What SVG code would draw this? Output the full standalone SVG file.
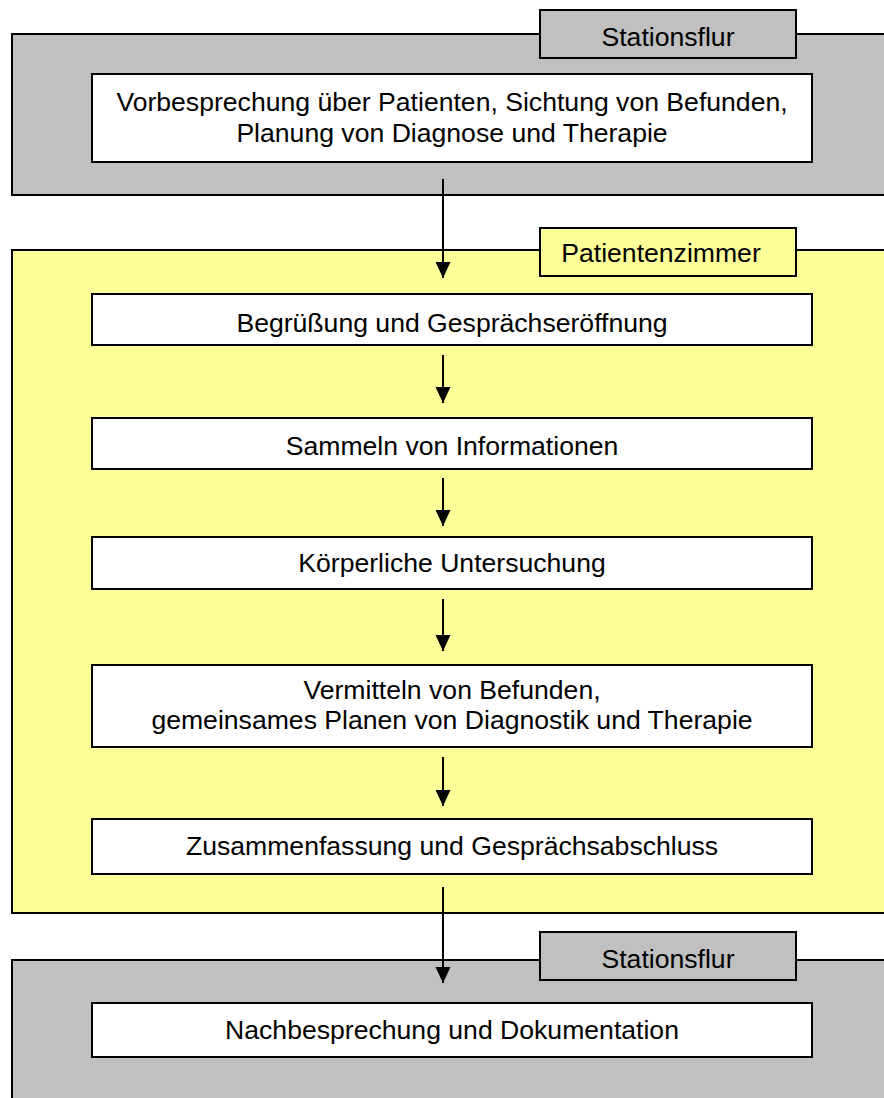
<svg xmlns="http://www.w3.org/2000/svg" width="884" height="1098" viewBox="0 0 884 1098">
  <style>
    .panel-gray { fill: #C0C0C0; stroke: #000; stroke-width: 2; }
    .panel-yellow { fill: #FFFF99; stroke: #000; stroke-width: 2; }
    .box { fill: #FFFFFF; stroke: #000; stroke-width: 2; }
    .t { font-family: "Liberation Sans", Arial, sans-serif; font-size: 26.6px; fill: #000; text-anchor: middle; }
    .conn { stroke: #000; stroke-width: 2; fill: none; marker-end: url(#ah); }
  </style>
  <defs>
    <marker id="ah" markerUnits="userSpaceOnUse" markerWidth="16" markerHeight="16" refX="16" refY="8" orient="auto">
      <path d="M0,0.5 L16,8 L0,15.5 z" fill="#000"/>
    </marker>
  </defs>

  <rect width="884" height="1098" fill="#FFFFFF"/>

  <g id="panel-stationsflur-top">
    <rect class="panel-gray" x="12" y="34" width="900" height="161"/>
    <rect class="panel-gray" x="540" y="10" width="256" height="48"/>
    <text class="t" x="668" y="46">Stationsflur</text>
  </g>

  <g id="panel-patientenzimmer">
    <rect class="panel-yellow" x="12" y="250" width="900" height="663"/>
    <rect class="panel-yellow" x="540" y="228" width="256" height="48"/>
    <text class="t" x="661" y="262">Patientenzimmer</text>
  </g>

  <g id="panel-stationsflur-bottom">
    <rect class="panel-gray" x="12" y="960" width="900" height="160"/>
    <rect class="panel-gray" x="540" y="932" width="256" height="48"/>
    <text class="t" x="668" y="968">Stationsflur</text>
  </g>

  <g id="node-vorbesprechung">
    <rect class="box" x="92" y="74" width="720" height="88"/>
    <text class="t" x="452" y="111">Vorbesprechung über Patienten, Sichtung von Befunden,</text>
    <text class="t" x="452" y="142">Planung von Diagnose und Therapie</text>
  </g>

  <g id="node-begruessung">
    <rect class="box" x="92" y="294" width="720" height="51"/>
    <text class="t" x="452" y="332">Begrüßung und Gesprächseröffnung</text>
  </g>

  <g id="node-sammeln">
    <rect class="box" x="92" y="418" width="720" height="51"/>
    <text class="t" x="452" y="455">Sammeln von Informationen</text>
  </g>

  <g id="node-untersuchung">
    <rect class="box" x="92" y="537" width="720" height="52"/>
    <text class="t" x="452" y="572">Körperliche Untersuchung</text>
  </g>

  <g id="node-vermitteln">
    <rect class="box" x="92" y="665" width="720" height="82"/>
    <text class="t" x="452" y="699">Vermitteln von Befunden,</text>
    <text class="t" x="452" y="729">gemeinsames Planen von Diagnostik und Therapie</text>
  </g>

  <g id="node-zusammenfassung">
    <rect class="box" x="92" y="819" width="720" height="55"/>
    <text class="t" x="452" y="855">Zusammenfassung und Gesprächsabschluss</text>
  </g>

  <g id="node-nachbesprechung">
    <rect class="box" x="92" y="1003" width="720" height="54"/>
    <text class="t" x="452" y="1039">Nachbesprechung und Dokumentation</text>
  </g>

  <g id="connectors">
    <line class="conn" x1="443" y1="179" x2="443" y2="278"/>
    <line class="conn" x1="443" y1="355" x2="443" y2="403"/>
    <line class="conn" x1="443" y1="478" x2="443" y2="526"/>
    <line class="conn" x1="443" y1="599" x2="443" y2="651"/>
    <line class="conn" x1="443" y1="757" x2="443" y2="806"/>
    <line class="conn" x1="443" y1="887" x2="443" y2="983"/>
  </g>
</svg>
